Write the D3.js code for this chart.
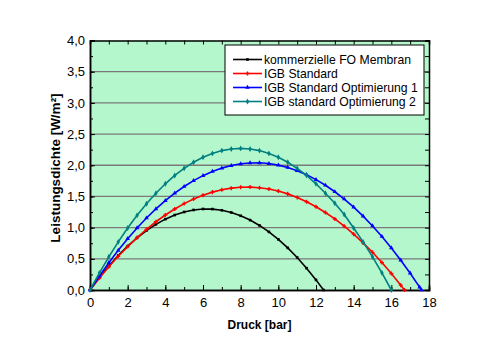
<!DOCTYPE html>
<html><head><meta charset="utf-8">
<script src="https://cdn.jsdelivr.net/npm/d3@7"></script>
<style>body{margin:0;background:#fff}svg{display:block}text{font-family:"Liberation Sans",Arial,sans-serif}</style>
</head><body><svg id="c" width="500" height="349"></svg>
<script>
const seriesNames = ["kommerzielle FO Membran","IGB Standard","IGB Standard Optimierung 1","IGB standard Optimierung 2"];
const seriesColors = ["#000000","#ff0000","#0000ff","#008080"];
const xBlack = [0,0.5,1,1.5,2,2.5,3,3.5,4,4.5,5,5.5,6,6.5,7,7.5,8,8.5,9,9.5,10,10.5,11,11.5,12,12.4];
const yBlack = [0,0.201,0.386,0.553,0.703,0.837,0.954,1.053,1.136,1.202,1.251,1.283,1.299,1.297,1.278,1.243,1.190,1.121,1.035,0.932,0.812,0.675,0.521,0.350,0.162,0];
const xRed = [0,0.5,1,1.5,2,2.5,3,3.5,4,4.5,5,5.5,6,6.5,7,7.5,8,8.5,9,9.5,10,10.5,11,11.5,12,12.5,13,13.5,14,14.5,15,15.5,16,16.5,16.7];
const yRed = [0,0.192,0.372,0.540,0.696,0.840,0.973,1.094,1.202,1.299,1.385,1.458,1.520,1.569,1.607,1.633,1.647,1.650,1.640,1.619,1.586,1.541,1.484,1.415,1.335,1.243,1.139,1.023,0.895,0.755,0.604,0.440,0.265,0.078,0];
const xBlue = [0,0.5,1,1.5,2,2.5,3,3.5,4,4.5,5,5.5,6,6.5,7,7.5,8,8.5,9,9.5,10,10.5,11,11.5,12,12.5,13,13.5,14,14.5,15,15.5,16,16.5,17,17.5,17.6];
const yBlue = [0,0.225,0.437,0.636,0.822,0.994,1.154,1.300,1.433,1.553,1.659,1.753,1.833,1.900,1.954,1.995,2.023,2.037,2.039,2.027,2.002,1.964,1.912,1.848,1.770,1.679,1.575,1.458,1.328,1.184,1.027,0.857,0.674,0.478,0.269,0.046,0];
const xTeal = [0,0.5,1,1.5,2,2.5,3,3.5,4,4.5,5,5.5,6,6.5,7,7.5,8,8.5,9,9.5,10,10.5,11,11.5,12,12.5,13,13.5,14,14.5,15,15.5,16];
const yTeal = [0,0.275,0.532,0.771,0.993,1.197,1.383,1.552,1.703,1.836,1.951,2.048,2.128,2.190,2.235,2.261,2.270,2.261,2.235,2.190,2.128,2.048,1.951,1.836,1.703,1.552,1.390,1.210,0.995,0.771,0.532,0.275,0];
const xTicks = [0,2,4,6,8,10,12,14,16,18];
const yTicks = [0,0.5,1,1.5,2,2.5,3,3.5,4];
const xLabel = "Druck [bar]";
const yLabel = "Leistungsdichte [W/m²]";

const series = [
  {x:xBlack,y:yBlack},{x:xRed,y:yRed},{x:xBlue,y:yBlue},{x:xTeal,y:yTeal}
];
const symbols = [d3.symbolSquare, d3.symbolCross, d3.symbolTriangle, d3.symbolDiamond];
const symSizes = [7, 9, 9, 10];

const L=90, R=429, T=40.5, B=290;
const svg = d3.select("#c");
const x = d3.scaleLinear().domain([0,18]).range([L,R]);
const y = d3.scaleLinear().domain([0,4]).range([B,T]);

svg.append("rect").attr("x",L).attr("y",T).attr("width",R-L).attr("height",B-T).attr("fill","#b4f7cd");

svg.append("g").selectAll("line").data(yTicks.filter(v=>v>0&&v<4)).join("line")
  .attr("x1",L).attr("x2",R).attr("y1",d=>y(d)).attr("y2",d=>y(d))
  .attr("stroke","#7a7a7a").attr("stroke-width",1.3);

const fmt = d=>d.toFixed(1).replace(".",",");
const xMinor = d3.range(0,18.01,1);
const yMinor = d3.range(0,4.001,0.25);
const gxB = svg.append("g").attr("transform",`translate(0,${B})`)
  .call(d3.axisBottom(x).tickValues(xTicks).tickSize(-5).tickPadding(8).tickFormat(d3.format("d")));
const gxBm = svg.append("g").attr("transform",`translate(0,${B})`)
  .call(d3.axisBottom(x).tickValues(xMinor).tickSize(-3).tickFormat(""));
const gxT = svg.append("g").attr("transform",`translate(0,${T})`)
  .call(d3.axisTop(x).tickValues(xMinor).tickSize(-4).tickFormat(""));
const gyL = svg.append("g").attr("transform",`translate(${L},0)`)
  .call(d3.axisLeft(y).tickValues(yTicks).tickSize(-5).tickPadding(5).tickFormat(fmt));
const gyLm = svg.append("g").attr("transform",`translate(${L},0)`)
  .call(d3.axisLeft(y).tickValues(yMinor).tickSize(-3).tickFormat(""));
const gyR = svg.append("g").attr("transform",`translate(${R},0)`)
  .call(d3.axisRight(y).tickValues(yMinor).tickSize(-4).tickFormat(""));
[gxB,gxBm,gxT,gyL,gyLm,gyR].forEach(g=>{
  g.select(".domain").attr("stroke","#000").attr("stroke-width",1.5);
  g.selectAll(".tick line").attr("stroke","#000").attr("stroke-width",1);
  g.selectAll("text").attr("font-size",13).attr("fill","#000").attr("font-family","Liberation Sans, Arial, sans-serif");
});

const line = d3.line().x(d=>x(d[0])).y(d=>y(d[1]));
series.forEach((s,i)=>{
  const pts = s.x.map((v,j)=>[v,s.y[j]]);
  svg.append("path").attr("d",line(pts)).attr("fill","none").attr("stroke",seriesColors[i]).attr("stroke-width",1.6);
  svg.append("g").selectAll("path").data(pts).join("path")
    .attr("transform",d=>`translate(${x(d[0])},${y(d[1])})`)
    .attr("d",d3.symbol().type(symbols[i]).size(symSizes[i]))
    .attr("fill",seriesColors[i]);
});

const lg = svg.append("g");
lg.append("rect").attr("x",225).attr("y",45).attr("width",199).attr("height",70)
  .attr("fill","#fff").attr("stroke","#000").attr("stroke-width",1);
seriesNames.forEach((n,i)=>{
  const yy = 59.5 + i*14;
  lg.append("line").attr("x1",233).attr("x2",262).attr("y1",yy).attr("y2",yy)
    .attr("stroke",seriesColors[i]).attr("stroke-width",1.6);
  lg.append("path").attr("transform",`translate(247.5,${yy})`)
    .attr("d",d3.symbol().type(symbols[i]).size(symSizes[i])).attr("fill",seriesColors[i]);
  lg.append("text").attr("x",264).attr("y",yy+4.5).attr("font-size",12.2).text(n);
});

svg.append("text").attr("x",(L+R)/2).attr("y",329).attr("text-anchor","middle")
  .attr("font-size",12).attr("font-weight","bold").text(xLabel);
svg.append("text").attr("transform",`translate(60,168) rotate(-90)`).attr("text-anchor","middle")
  .attr("font-size",13.5).attr("font-weight","bold").text(yLabel);
</script></body></html>
